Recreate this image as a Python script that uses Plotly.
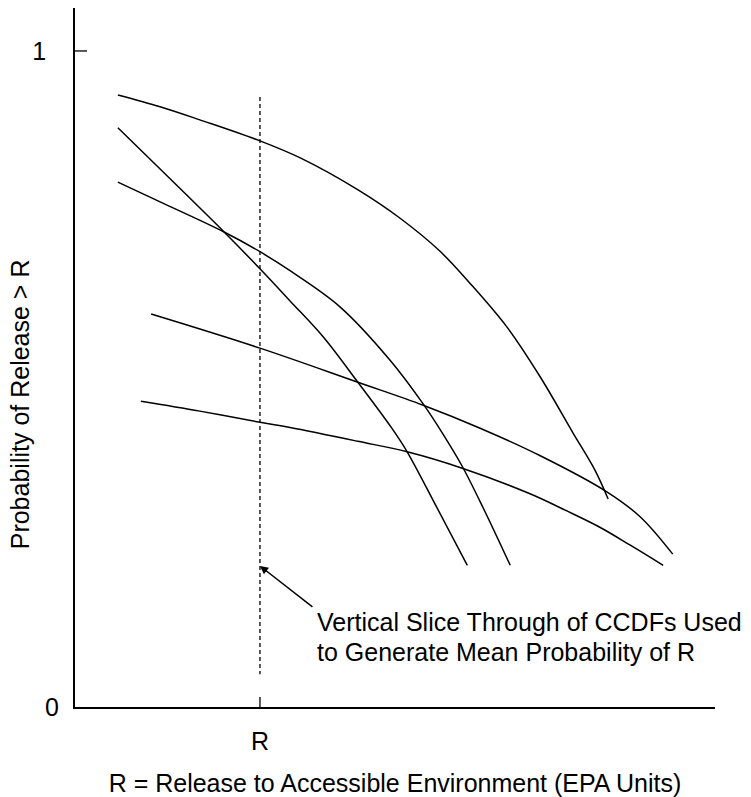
import plotly.graph_objects as go

# ---- data (x in arbitrary release units, y = probability) ----
R_VALUE = 2.89
y_tick_vals = [0, 1]
y_tick_text = ["0", "1"]
x_tick_vals = [R_VALUE]
x_tick_text = ["R"]

ccdf_a_x = [0.67, 1.33, 1.95, 2.89, 3.52, 4.41, 5.08, 5.70, 6.17, 6.75, 7.27, 7.78, 8.13, 8.33]
ccdf_a_y = [0.933, 0.915, 0.895, 0.863, 0.837, 0.789, 0.745, 0.695, 0.646, 0.579, 0.503, 0.418, 0.360, 0.317]

ccdf_b_x = [0.67, 1.33, 2.33, 2.89, 3.36, 3.88, 4.42, 4.95, 5.19, 5.66, 6.13]
ccdf_b_y = [0.883, 0.820, 0.724, 0.668, 0.619, 0.564, 0.495, 0.425, 0.389, 0.303, 0.216]

ccdf_c_x = [0.67, 1.33, 2.33, 2.89, 3.36, 4.14, 4.92, 5.44, 5.75, 6.05, 6.38, 6.80]
ccdf_c_y = [0.800, 0.770, 0.724, 0.694, 0.665, 0.610, 0.529, 0.462, 0.416, 0.367, 0.303, 0.216]

ccdf_d_x = [1.19, 2.89, 4.42, 5.44, 6.33, 7.27, 8.31, 8.83, 9.34]
ccdf_d_y = [0.599, 0.547, 0.495, 0.460, 0.425, 0.383, 0.328, 0.290, 0.233]

ccdf_e_x = [1.03, 1.95, 2.89, 3.36, 4.42, 5.19, 6.05, 7.11, 7.66, 8.20, 8.67, 9.19]
ccdf_e_y = [0.466, 0.451, 0.434, 0.426, 0.405, 0.389, 0.364, 0.325, 0.300, 0.274, 0.247, 0.216]

slice_y = [0.930, 0.050]
arrow_tip_y = 0.215

annotation_lines = ["Vertical Slice Through of CCDFs Used", "to Generate Mean Probability of R"]
annotation_x = 3.75
annotation_y = [0.130, 0.084]

x_title = "R = Release to Accessible Environment (EPA Units)"
y_title = "Probability of Release > R"

FONT = "Arial, 'Liberation Sans', sans-serif"
FS = 25

fig = go.Figure()
for cx, cy in [(ccdf_a_x, ccdf_a_y), (ccdf_b_x, ccdf_b_y), (ccdf_c_x, ccdf_c_y),
               (ccdf_d_x, ccdf_d_y), (ccdf_e_x, ccdf_e_y)]:
    fig.add_trace(go.Scatter(x=cx, y=cy, mode="lines",
                             line=dict(color="black", width=1.5, shape="spline", smoothing=1.0),
                             hoverinfo="skip", showlegend=False))

fig.add_trace(go.Scatter(x=[R_VALUE, R_VALUE], y=slice_y, mode="lines",
                         line=dict(color="black", width=1.3, dash="4px,3px"),
                         hoverinfo="skip", showlegend=False))
# dummy trace for the secondary (overlaid) y axis carrying the "0" label
fig.add_trace(go.Scatter(x=[None], y=[None], yaxis="y2", showlegend=False, hoverinfo="skip"))

# tick marks crossing the axes
fig.add_shape(type="line", xref="x", xsizemode="pixel", xanchor=0, x0=-11, x1=12,
              yref="y", y0=y_tick_vals[1], y1=y_tick_vals[1], line=dict(color="black", width=1.3))
fig.add_shape(type="line", yref="y", ysizemode="pixel", yanchor=0, y0=-11, y1=10,
              xref="x", x0=x_tick_vals[0], x1=x_tick_vals[0], line=dict(color="black", width=1.3))

# arrow
fig.add_annotation(x=R_VALUE, y=arrow_tip_y, xref="x", yref="y", ax=54, ay=42,
                   axref="pixel", ayref="pixel", text="", showarrow=True,
                   arrowhead=2, arrowsize=1.1, arrowwidth=1.5, arrowcolor="black")
for txt, yy in zip(annotation_lines, annotation_y):
    fig.add_annotation(x=annotation_x, y=yy, xref="x", yref="y", text=txt, showarrow=False,
                       xanchor="left", yanchor="middle", font=dict(family=FONT, size=FS, color="black"))

# y axis title
fig.add_annotation(x=-0.086, y=0.433, xref="paper", yref="paper", text=y_title, textangle=-90,
                   showarrow=False, xanchor="center", yanchor="middle",
                   font=dict(family=FONT, size=FS, color="black"))

fig.update_layout(
    width=743, height=789,
    margin=dict(l=67, r=36, t=0, b=90),
    paper_bgcolor="white", plot_bgcolor="white",
    font=dict(family=FONT, size=FS, color="black"),
    showlegend=False,
    xaxis=dict(range=[0, 10], showline=True, linecolor="black", linewidth=1.5, automargin=False,
               showgrid=False, zeroline=False, ticks="", tickvals=x_tick_vals, ticktext=x_tick_text,
               ticklabelstandoff=11, tickfont=dict(size=FS),
               title=dict(text=x_title, standoff=22, font=dict(size=FS))),
    yaxis=dict(range=[0, 1.0655], showline=True, linecolor="black", linewidth=1.5, automargin=False,
               showgrid=False, zeroline=False, ticks="", tickvals=[y_tick_vals[1]], ticktext=[y_tick_text[1]],
               ticklabelstandoff=22, tickfont=dict(size=FS)),
    yaxis2=dict(range=[0, 1.0655], overlaying="y", side="left", showline=False, showgrid=False,
                automargin=False,
                zeroline=False, ticks="", tickvals=[y_tick_vals[0]], ticktext=[y_tick_text[0]],
                ticklabelstandoff=15, tickfont=dict(size=FS)),
)

fig.write_html("out.html")
